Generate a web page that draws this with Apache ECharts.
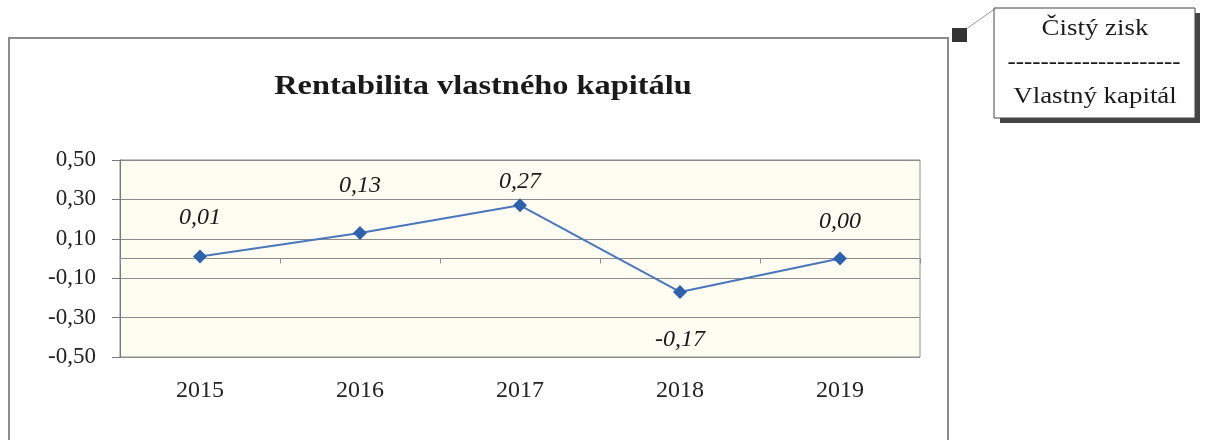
<!DOCTYPE html>
<html>
<head>
<meta charset="utf-8">
<script src="https://cdn.jsdelivr.net/npm/echarts@6/dist/echarts.min.js"></script>
<style>
  html, body { margin: 0; padding: 0; background: #fff; }
  #chart { width: 1209px; height: 440px; }
</style>
</head>
<body>
<div id="chart"></div>
<script>
var years = ['2015', '2016', '2017', '2018', '2019'];
var roe = [0.01, 0.13, 0.27, -0.17, 0.00];
var yTicks = [-0.5, 0.5, 0.2];   // min, max, step

(function () {
    var myChart = echarts.init(document.getElementById('chart'));
    var serif = '"Liberation Serif", "DejaVu Serif", serif';

    // label distance above/below each point, as in the picture
    var labelDist = [20, 28, 5, 29, 18];
    var seriesData = roe.map(function (v, i) {
        return {
            value: v,
            label: { position: v < 0 ? 'bottom' : 'top', distance: labelDist[i] }
        };
    });

    function comma(v) {
        return v.toFixed(2).replace('.', ',');
    }

    var option = {
        backgroundColor: '#fff',
        animation: false,
        grid: {
            left: 120, top: 160, width: 800, height: 197,
            outerBoundsMode: 'none',
            containLabel: false,
            show: true, backgroundColor: '#fffdf2', borderColor: '#8c8c8c', borderWidth: 1
        },
        xAxis: {
            type: 'category',
            data: years,
            boundaryGap: true,
            axisLine: { onZero: true, lineStyle: { color: '#8c8c8c', width: 1 } },
            axisTick: { show: true, length: 5, lineStyle: { color: '#8c8c8c' } },
            axisLabel: { margin: 22, fontFamily: serif, fontSize: 24, color: '#222' },
            splitLine: { show: false }
        },
        yAxis: {
            type: 'value',
            min: yTicks[0],
            max: yTicks[1],
            interval: yTicks[2],
            axisLine: { show: true, lineStyle: { color: '#777', width: 1 } },
            axisTick: { show: true, length: 8, lineStyle: { color: '#777' } },
            axisLabel: {
                margin: 24, fontFamily: serif, fontSize: 23, color: '#222',
                formatter: function (v) { return comma(v); }
            },
            splitLine: { show: true, lineStyle: { color: '#8c8c8c', width: 1 } }
        },
        series: [{
            type: 'line',
            data: seriesData,
            symbol: 'diamond',
            symbolSize: 14,
            lineStyle: { color: '#4a76bb', width: 2 },
            itemStyle: { color: '#2f62ad' },
            label: {
                show: true,
                fontFamily: serif, fontSize: 24, fontStyle: 'italic', color: '#1a1a1a',
                formatter: function (p) { return comma(p.value); }
            }
        }],
        graphic: [
            // outer chart frame
            { type: 'rect', shape: { x: 9, y: 38, width: 939, height: 430 },
              style: { fill: 'none', stroke: '#8a8a8a', lineWidth: 2 } },
            // title, a bit stretched like the scan
            { type: 'text', x: 483, y: 74, scaleX: 1.2,
              style: { text: 'Rentabilita vlastného kapitálu', fontFamily: serif, fontSize: 27,
                       fontWeight: 'bold', fill: '#1a1a1a', textAlign: 'center' } },
            // corner marker and leader line
            { type: 'line', shape: { x1: 962, y1: 32, x2: 996, y2: 8 },
              style: { stroke: '#999', lineWidth: 1 } },
            { type: 'rect', shape: { x: 952, y: 28, width: 15, height: 14 },
              style: { fill: '#333' } },
            // callout box with shadow
            { type: 'rect', shape: { x: 1000, y: 13, width: 200, height: 110 },
              style: { fill: '#444' } },
            { type: 'rect', shape: { x: 994, y: 8, width: 201, height: 110 },
              style: { fill: '#fff', stroke: '#444', lineWidth: 1 } },
            { type: 'text', x: 1095, y: 17, scaleX: 1.12,
              style: { text: 'Čistý zisk', fontFamily: serif, fontSize: 24, fill: '#1a1a1a', textAlign: 'center' } },
            { type: 'text', x: 1094, y: 51, scaleX: 1.03,
              style: { text: '---------------------', fontFamily: serif, fontSize: 24, fill: '#1a1a1a', textAlign: 'center' } },
            { type: 'text', x: 1095, y: 85, scaleX: 1.12,
              style: { text: 'Vlastný kapitál', fontFamily: serif, fontSize: 24, fill: '#1a1a1a', textAlign: 'center' } }
        ]
    };

    myChart.setOption(option);
    window.addEventListener('resize', function () {
        myChart.resize();
    });
})();
</script>
</body>
</html>
